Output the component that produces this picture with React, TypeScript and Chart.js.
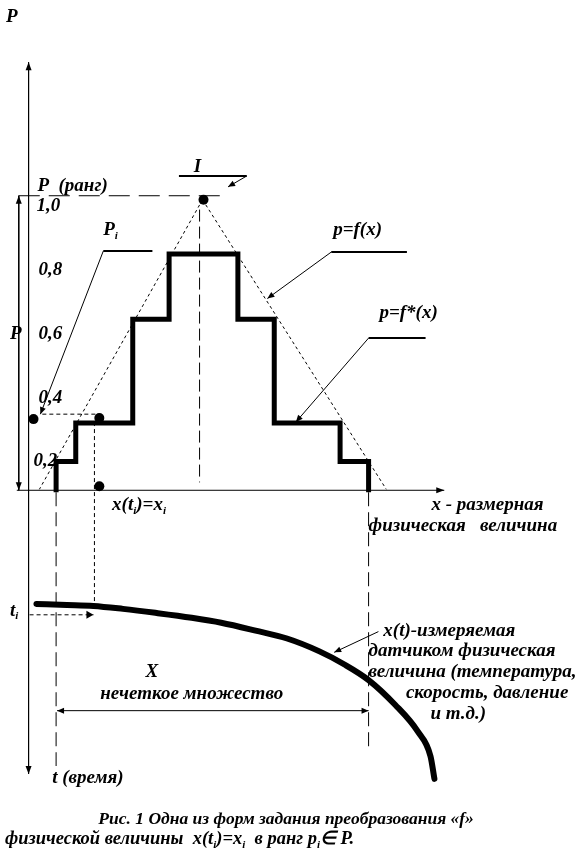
import React, { useEffect, useRef } from "react";
import { Chart, registerables } from "chart.js";

Chart.register(...registerables);

const W = 577;
const H = 857;
const FONT = "'Liberation Serif', 'Times New Roman', serif";
const FS = 19;

// ---- data (diagram units: x to the right, y downward) ----
// step function p = f*(x)
const stepX = [52, 52, 72, 72, 130, 130, 167, 167, 237, 237, 274, 274, 341, 341, 370, 370];
const stepY = [493, 462, 462, 423, 423, 318, 318, 252, 252, 318, 318, 423, 423, 462, 462, 493];

// triangle p = f(x) (dotted)
const triLeftX = [201, 35];
const triLeftY = [197, 490];
const triRightX = [201, 388];
const triRightY = [197, 490];

// measured quantity x(t) curve
const curveX = [32, 63, 90, 120, 153, 190, 220, 255, 287, 320, 345, 370, 397, 420, 433, 437];
const curveY = [606, 607, 608, 611, 615, 620, 625, 633, 641, 654, 667, 683, 708, 735, 760, 783];

// marked points
const dotX = [202, 29, 96, 96];
const dotY = [197, 419, 418, 487];

// axis tick labels of P
const tickLabels = ["0,2", "0,4", "0,6", "0,8", "1,0"];
const tickX = [29, 34, 34, 34, 32];
const tickY = [461, 398, 333, 268, 203];

type Part = [string, boolean?];
type Label = { x: number; y: number; parts: Part[]; size?: number };

const labels: Label[] = [
  { x: 1, y: 12, parts: [["P"]] },
  { x: 33, y: 183, parts: [["P  (ранг)"]] },
  { x: 192, y: 164, parts: [["I"]] },
  { x: 100, y: 228, parts: [["P"], ["i", true]] },
  { x: 5, y: 333, parts: [["P"]] },
  { x: 334, y: 228, parts: [["p=f(x)"]] },
  { x: 381, y: 312, parts: [["p=f*(x)"]] },
  { x: 109, y: 506, parts: [["x(t"], ["i", true], [")=x"], ["i", true]] },
  { x: 434, y: 506, parts: [["x - размерная"]] },
  { x: 370, y: 527, parts: [["физическая   величина"]] },
  { x: 5, y: 613, parts: [["t"], ["i", true]] },
  { x: 385, y: 633, parts: [["x(t)-измеряемая"]] },
  { x: 370, y: 654, parts: [["датчиком физическая"]] },
  { x: 370, y: 675, parts: [["величина (температура,"]] },
  { x: 408, y: 696, parts: [["скорость, давление"]] },
  { x: 433, y: 717, parts: [["и т.д.)"]] },
  { x: 143, y: 675, parts: [["X"]] },
  { x: 97, y: 697, parts: [["нечеткое множество"]] },
  { x: 48, y: 782, parts: [["t (время)"]] },
  { x: 95, y: 824, size: 17.5, parts: [["Рис. 1 Одна из форм задания преобразования «f»"]] },
  {
    x: 0,
    y: 844,
    size: 18.5,
    parts: [["физической величины  x(t"], ["i", true], [")=x"], ["i", true], ["  в ранг p"], ["i", true], ["∈ P."]],
  },
];

const pts = (xs: number[], ys: number[]) => xs.map((x, i) => ({ x, y: ys[i] }));

function line(xs: number[], ys: number[], opt: any = {}) {
  return {
    data: pts(xs, ys),
    showLine: true,
    borderColor: "#000",
    backgroundColor: "#000",
    borderWidth: opt.width ?? 1,
    borderDash: opt.dash ?? [],
    pointRadius: 0,
    pointHoverRadius: 0,
    tension: opt.tension ?? 0,
    cubicInterpolationMode: opt.mono ? "monotone" : "default",
    borderJoinStyle: "miter",
    borderCapStyle: "butt",
    clip: false,
    arrowEnd: opt.arrowEnd ?? false,
    arrowStart: opt.arrowStart ?? false,
    arrowLen: opt.arrowLen ?? 8,
    arrowW: opt.arrowW ?? 3,
  };
}

const arrowPlugin = {
  id: "arrows",
  afterDatasetsDraw(chart: any) {
    const ctx = chart.ctx;
    chart.data.datasets.forEach((ds: any, i: number) => {
      if (!ds.arrowEnd && !ds.arrowStart) return;
      const p = chart.getDatasetMeta(i).data;
      const n = p.length;
      if (n < 2) return;
      const draw = (tip: any, from: any) => {
        const dx = tip.x - from.x;
        const dy = tip.y - from.y;
        const l = Math.hypot(dx, dy) || 1;
        const ux = dx / l, uy = dy / l;
        const bx = tip.x - ux * ds.arrowLen, by = tip.y - uy * ds.arrowLen;
        ctx.save();
        ctx.fillStyle = "#000";
        ctx.beginPath();
        ctx.moveTo(tip.x, tip.y);
        ctx.lineTo(bx - uy * ds.arrowW, by + ux * ds.arrowW);
        ctx.lineTo(bx + uy * ds.arrowW, by - ux * ds.arrowW);
        ctx.closePath();
        ctx.fill();
        ctx.restore();
      };
      if (ds.arrowEnd) draw(p[n - 1], p[n - 2]);
      if (ds.arrowStart) draw(p[0], p[1]);
    });
  },
};

const textPlugin = {
  id: "texts",
  afterDraw(chart: any) {
    const ctx = chart.ctx;
    const sx = chart.scales.x, sy = chart.scales.y;
    const all: Label[] = [
      ...labels,
      ...tickLabels.map((t, i) => ({ x: tickX[i], y: tickY[i], parts: [[t]] as Part[] })),
    ];
    ctx.save();
    ctx.fillStyle = "#000";
    ctx.textBaseline = "middle";
    ctx.textAlign = "left";
    all.forEach((lb) => {
      const fs = lb.size ?? FS;
      let px = sx.getPixelForValue(lb.x);
      const py = sy.getPixelForValue(lb.y);
      lb.parts.forEach(([s, sub]) => {
        const size = sub ? Math.round(fs * 0.58) : fs;
        ctx.font = `italic bold ${size}px ${FONT}`;
        ctx.fillText(s, px, sub ? py + fs * 0.3 : py);
        px += ctx.measureText(s).width;
      });
    });
    ctx.restore();
  },
};

const bgPlugin = {
  id: "bg",
  beforeDraw(chart: any) {
    const ctx = chart.ctx;
    ctx.save();
    ctx.fillStyle = "#fff";
    ctx.fillRect(0, 0, chart.width, chart.height);
    ctx.restore();
  },
};

export default function App() {
  const ref = useRef<HTMLCanvasElement>(null);
  useEffect(() => {
    document.body.style.margin = "0";
    const datasets: any[] = [
      // axes
      line([24, 24], [58, 778], { arrowEnd: true, arrowStart: true }),
      line([12, 447], [491, 491], { arrowEnd: true }),
      line([14, 14], [193, 491], { arrowEnd: true, arrowStart: true }),
      // P = 1 dashed level
      line([14, 225], [193, 193], { dash: [21, 9] }),
      // symmetry axis
      line([198, 198], [207, 483], { dash: [12, 5] }),
      // triangle f(x)
      line(triLeftX, triLeftY, { dash: [3, 3] }),
      line(triRightX, triRightY, { dash: [3, 3] }),
      // projections
      line([52, 52], [493, 770], { dash: [14, 6] }),
      line([370, 370], [493, 752], { dash: [14, 6] }),
      line([38, 96], [414, 414], { dash: [4, 3] }),
      line([91, 91], [422, 605], { dash: [4, 3] }),
      line([25, 90], [617, 617], { dash: [4, 3], arrowEnd: true, arrowLen: 7, arrowW: 4 }),
      // X interval
      line([53, 370], [714, 714], { arrowEnd: true, arrowStart: true, arrowLen: 7, arrowW: 3 }),
      // leaders
      line([177, 246], [173, 173], { width: 2 }),
      line([246, 227], [173, 184], { arrowEnd: true, arrowLen: 7, arrowW: 3 }),
      line([100, 150], [249, 249], { width: 2 }),
      line([100, 36], [249, 414], { arrowEnd: true, arrowLen: 7, arrowW: 3 }),
      line([332, 409], [250, 250], { width: 2 }),
      line([332, 267], [250, 297], { arrowEnd: true, arrowLen: 7, arrowW: 3 }),
      line([370, 428], [337, 337], { width: 2 }),
      line([370, 296], [337, 422], { arrowEnd: true, arrowLen: 7, arrowW: 3 }),
      line([380, 335], [634, 655], { arrowEnd: true, arrowLen: 7, arrowW: 3 }),
      // step function
      line(stepX, stepY, { width: 5 }),
      // curve x(t)
      { ...line(curveX, curveY, { width: 6, tension: 0.4, mono: true }), borderCapStyle: "round" },
      // dots
      {
        data: pts(dotX, dotY),
        showLine: false,
        pointRadius: 5,
        pointBackgroundColor: "#000",
        pointBorderColor: "#000",
        pointBorderWidth: 0,
        clip: false,
      },
    ];
    const chart = new Chart(ref.current!, {
      type: "scatter",
      data: { datasets },
      options: {
        animation: false,
        responsive: false,
        devicePixelRatio: 1,
        events: [],
        layout: { padding: 0 },
        plugins: { legend: { display: false }, tooltip: { enabled: false } },
        scales: {
          x: { type: "linear", min: 0, max: W, display: false },
          y: { type: "linear", min: 0, max: H, reverse: true, display: false },
        },
      } as any,
      plugins: [bgPlugin, arrowPlugin, textPlugin],
    });
    return () => chart.destroy();
  }, []);
  return (
    <div style={{ position: "absolute", left: 0, top: 0, width: W, height: H, background: "#fff" }}>
      <canvas ref={ref} width={W} height={H} style={{ display: "block", width: W, height: H }} />
    </div>
  );
}
